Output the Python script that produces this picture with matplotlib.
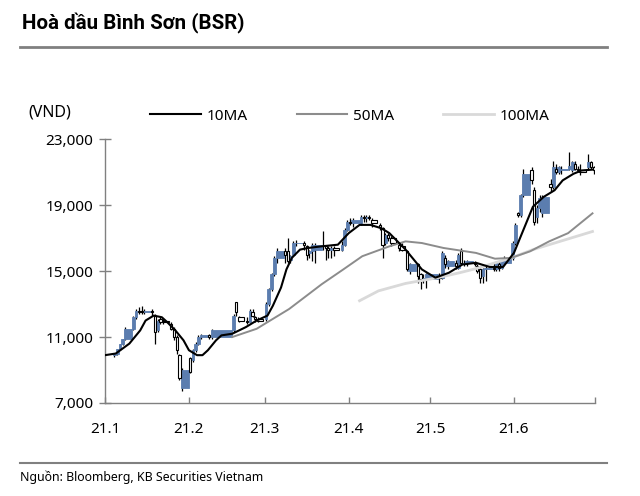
import numpy as np
import pandas as pd
import matplotlib
matplotlib.use('Agg')
import matplotlib.pyplot as plt
import matplotlib.dates as mdates
from matplotlib.lines import Line2D
from matplotlib.ticker import FuncFormatter

plt.rcParams['font.family'] = ['Noto Sans', 'DejaVu Sans']

# trading days, Jan-Jun 2021 (HOSE/UPCoM holidays removed)
holidays = ['2021-01-01', '2021-02-10', '2021-02-11', '2021-02-12', '2021-02-15',
            '2021-02-16', '2021-04-21', '2021-04-30', '2021-05-03']
days = pd.bdate_range('2021-01-04', '2021-06-30', freq='C', holidays=holidays)

# OHLC (VND), month by month
opens = [
    9900, 10000, 10300, 10600, 10900, 11500, 12200, 12600, 12600, 12500, 12600, 12300, 11400, 12100, 12000, 11800, 11500, 11000, 9900, 7900,
    9700, 9600, 10200, 10600, 11000, 11100, 11000, 11400, 13100, 12200, 12000, 11900, 12500, 12200, 12100,
    12100, 13000, 13900, 14800, 15800, 16200, 16200, 15700, 16000, 16700, 16700, 16500, 16100, 16200, 16300, 16500, 16500, 16400, 16300, 16400, 16300, 16600, 17500,
    18000, 17900, 17900, 18300, 18200, 18300, 18100, 17800, 17600, 16700, 17200, 17000, 16600, 16500, 16200, 15000, 15400, 14800, 14500, 14500,
    14700, 14600, 15800, 15300, 15500, 15200, 16200, 15500, 15500, 15500, 15300, 15100, 14700, 15100, 15200, 15100, 15400, 15200, 15500, 15800,
    16700, 18500, 18400, 19600, 21100, 19900, 18300, 18800, 18500, 20300, 20100, 21200, 21000, 21100, 21200, 21100, 21500, 21200, 21100, 21300, 21600, 21300,
]
highs = [
    10000, 10300, 10600, 10900, 11600, 12300, 12700, 12800, 12900, 12700, 12700, 12400, 12100, 12200, 12100, 11900, 11600, 11100, 10000, 9100,
    9800, 10300, 10700, 11100, 11200, 11200, 11500, 12400, 13100, 12300, 12200, 12700, 12700, 12300, 12200,
    13100, 14000, 14900, 15900, 16400, 16400, 17000, 16000, 16800, 16900, 16800, 16600, 16300, 16700, 16700, 17400, 16600, 16500, 16500, 16500, 16800, 17600, 18100,
    18200, 18200, 18400, 18400, 18400, 18400, 18200, 17900, 17700, 17300, 17300, 17100, 16700, 16700, 16300, 15500, 15500, 14900, 14800, 14900,
    14900, 16200, 16000, 15700, 15700, 16100, 16400, 15700, 15700, 15600, 15400, 15200, 15200, 15300, 15500, 15600, 15600, 15700, 15900, 16800,
    17900, 18600, 19700, 21200, 21300, 20100, 19000, 19600, 19600, 20600, 21700, 21500, 21400, 21400, 22200, 21700, 21700, 21400, 21500, 22100, 21700, 21400,
]
lows = [
    9800, 9900, 10200, 10500, 10800, 11400, 12100, 12400, 12400, 12400, 12300, 10600, 11300, 11800, 11800, 11400, 10800, 10000, 8400, 7700,
    8800, 9500, 10100, 10500, 10900, 10900, 10900, 11300, 12300, 11900, 11800, 11900, 12200, 11900, 11900,
    12000, 12900, 13800, 14700, 15500, 15500, 15500, 15500, 15900, 16500, 16300, 15700, 15800, 15600, 15500, 16300, 15700, 15800, 15800, 15900, 16200, 16500, 17400,
    17800, 17700, 17800, 18000, 18000, 18100, 17700, 17500, 15800, 16600, 16800, 16500, 16200, 16200, 15000, 14800, 14300, 13900, 14300, 14000,
    14300, 14500, 15200, 15100, 15100, 15100, 15400, 15300, 15300, 15300, 14900, 14300, 14300, 14400, 15000, 15000, 15000, 15100, 15400, 15700,
    16600, 18300, 18300, 19500, 20300, 17800, 17900, 18600, 18300, 19800, 20000, 20900, 20900, 20900, 21100, 21000, 21100, 21000, 20800, 21200, 21200, 20900,
]
closes = [
    9950, 10300, 10600, 10900, 11500, 12200, 12600, 12500, 12500, 12600, 12500, 11300, 12000, 11900, 11900, 11500, 11000, 10200, 8500, 9000,
    8900, 10200, 10600, 11000, 11100, 11000, 11400, 12300, 12500, 12000, 11900, 12600, 12300, 12100, 12000,
    13000, 13900, 14800, 15800, 16200, 16000, 15600, 15900, 16700, 16700, 16600, 16000, 16200, 16600, 16600, 16500, 16400, 16300, 16400, 16300, 16600, 17500, 18000,
    17900, 18100, 18300, 18200, 18300, 18200, 17900, 17700, 16600, 17200, 17000, 16700, 16400, 16300, 15100, 15400, 14700, 14500, 14600, 14800,
    14600, 16100, 15400, 15600, 15300, 16000, 15500, 15500, 15600, 15400, 15000, 14600, 15100, 15200, 15100, 15500, 15200, 15600, 15800, 16700,
    17800, 18400, 19600, 20900, 20500, 18000, 18800, 19400, 19500, 20100, 21300, 21000, 21300, 21200, 21400, 21600, 21200, 21100, 21000, 21600, 21300, 21100,
]

# moving averages as drawn on the chart
ma10_dates = ['2021-01-01', '2021-01-05', '2021-01-10', '2021-01-14', '2021-01-16', '2021-01-19',
              '2021-01-22', '2021-01-24', '2021-01-27', '2021-01-30', '2021-02-01', '2021-02-04',
              '2021-02-06', '2021-02-08', '2021-02-11', '2021-02-13', '2021-02-17', '2021-02-22',
              '2021-02-26', '2021-03-02', '2021-03-04', '2021-03-07', '2021-03-09', '2021-03-11',
              '2021-03-14', '2021-03-17', '2021-03-22', '2021-03-28', '2021-04-01', '2021-04-05',
              '2021-04-09', '2021-04-13', '2021-04-16', '2021-04-22', '2021-04-28', '2021-05-03',
              '2021-05-08', '2021-05-13', '2021-05-18', '2021-05-23', '2021-05-28', '2021-06-01',
              '2021-06-04', '2021-06-08', '2021-06-12', '2021-06-16', '2021-06-19', '2021-06-23',
              '2021-06-26', '2021-06-30']
ma10 = [9900, 10000, 10600, 11400, 12000, 12300, 12200, 11900, 11400, 10800, 10200, 9900,
        9900, 10200, 10800, 11100, 11200, 11600, 12000, 12300, 12900, 14000, 15100, 15800,
        16300, 16400, 16500, 16600, 17300, 17800, 17800, 17600, 17300, 16300, 15100, 14600,
        14900, 15400, 15500, 15250, 15250, 16100, 17300, 18900, 19500, 19900, 20500, 20900,
        21100, 21150]

ma50_dates = ['2021-02-17', '2021-02-26', '2021-03-10', '2021-03-22', '2021-03-30', '2021-04-06',
              '2021-04-16', '2021-04-22', '2021-04-28', '2021-05-06', '2021-05-18', '2021-05-25',
              '2021-05-31', '2021-06-07', '2021-06-14', '2021-06-21', '2021-06-30']
ma50 = [11000, 11500, 12700, 14200, 15100, 15900, 16500, 16800, 16700, 16400, 16100, 15750,
        15800, 16200, 16800, 17300, 18500]

ma100_dates = ['2021-04-05', '2021-04-12', '2021-04-22', '2021-05-04', '2021-05-12', '2021-05-18',
               '2021-05-25', '2021-05-31', '2021-06-08', '2021-06-16', '2021-06-22', '2021-06-30']
ma100 = [13200, 13800, 14250, 14600, 14900, 15150, 15500, 15800, 16300, 16700, 17000, 17400]

blue = '#5b7daf'
grey = '#8c8c8c'
light = '#d9d9d9'

fig = plt.figure(figsize=(6.4, 4.96), dpi=100)
ax = fig.add_axes([0.164, 0.1875, 0.766, 0.532])

x = mdates.date2num(days)
o = np.array(opens)
h = np.array(highs)
l = np.array(lows)
c = np.array(closes)
gap = np.append(np.diff(x), 1.0)
width = gap * 1.0
up = c >= o

ax.vlines(x + 0.5, l, h, color='black', lw=0.9, zorder=2)
ax.bar(x[up], (c - o)[up], bottom=o[up], width=width[up], align='edge',
       color=blue, edgecolor=blue, lw=0.6, zorder=3)
ax.bar(x[~up] + 0.1, (o - c)[~up], bottom=c[~up], width=width[~up] * 0.8, align='edge',
       color='white', edgecolor='black', lw=0.8, zorder=3)

ax.plot(pd.to_datetime(ma100_dates), ma100, color=light, lw=2.0, zorder=4)
ax.plot(pd.to_datetime(ma50_dates), ma50, color=grey, lw=1.4, zorder=4)
ax.plot(pd.to_datetime(ma10_dates), ma10, color='black', lw=1.5, zorder=5)

ax.set_xlim(pd.Timestamp('2021-01-01'), pd.Timestamp('2021-07-01'))
ax.set_ylim(7000, 23000)
ax.set_yticks(np.arange(7000, 23001, 4000))
ax.yaxis.set_major_formatter(FuncFormatter(lambda v, p: '{:,.0f}'.format(v)))
xt = pd.date_range('2021-01-01', '2021-07-01', freq='MS')
ax.set_xticks(xt)
ax.set_xticklabels(['21.1', '21.2', '21.3', '21.4', '21.5', '21.6', ''])

for s in ['top', 'right']:
    ax.spines[s].set_visible(False)
for s in ['left', 'bottom']:
    ax.spines[s].set_color('#808080')
    ax.spines[s].set_linewidth(1.0)
ax.tick_params(axis='y', direction='inout', length=9, width=1, color='#808080',
               labelsize=11, pad=4)
ax.tick_params(axis='x', direction='in', length=4, width=1, color='#808080',
               labelsize=11, pad=14)

handles = [Line2D([], [], color='black', lw=1.5),
           Line2D([], [], color=grey, lw=1.5),
           Line2D([], [], color=light, lw=2.0)]
fig.legend(handles, ['10MA', '50MA', '100MA'], loc='center left',
           bbox_to_anchor=(0.225, 0.766), ncol=3, frameon=False, fontsize=11,
           handlelength=3.3, handletextpad=0.4, columnspacing=3.2, borderaxespad=0)

fig.text(0.045, 0.774, '(VND)', fontsize=11.5, va='center', ha='left')

fig.text(0.034, 0.953, 'Hoà dầu Bình Sơn (BSR)', fontsize=14.8, fontweight='bold',
         family=['Roboto', 'DejaVu Sans'], va='center', ha='left')
fig.add_artist(Line2D([0.031, 0.948], [0.905, 0.905], color='#808080', lw=2))
fig.add_artist(Line2D([0.031, 0.948], [0.067, 0.067], color='#808080', lw=1.5))
fig.text(0.031, 0.038, 'Nguồn: Bloomberg, KB Securities Vietnam', fontsize=8.9,
         va='center', ha='left')

fig.savefig('out.png', dpi=100)
